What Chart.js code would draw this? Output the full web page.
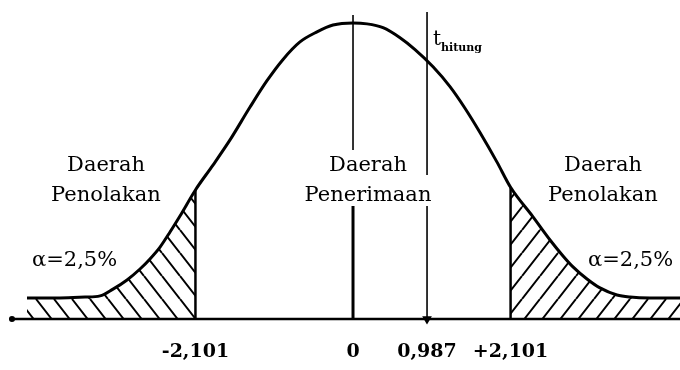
<!DOCTYPE html>
<html>
<head>
<meta charset="utf-8">
<script src="https://cdn.jsdelivr.net/npm/chart.js@4.4.1/dist/chart.umd.min.js"></script>
<style>
  html, body { margin: 0; padding: 0; background: #fff; }
  #wrap { width: 680px; height: 370px; position: relative; }
</style>
</head>
<body>
<div id="wrap"><canvas id="c"></canvas></div>
<script>
// ---- data ----
const curveX = [-4.347, -3.907, -3.573, -3.373, -3.200, -3.013, -2.840, -2.707, -2.573, -2.440, -2.307, -2.101,
  -1.867, -1.640, -1.373, -1.147, -0.933, -0.707, -0.480, -0.267, 0, 0.187, 0.400, 0.627, 0.827, 1.067, 1.293,
  1.493, 1.693, 1.920, 2.101, 2.400, 2.627, 2.800, 2.933, 3.120, 3.293, 3.520, 3.693, 3.960, 4.360];
const curveY = [0.071, 0.071, 0.074, 0.078, 0.101, 0.132, 0.169, 0.203, 0.243, 0.294, 0.348, 0.436,
  0.520, 0.605, 0.716, 0.805, 0.877, 0.936, 0.970, 0.993, 1.000, 0.997, 0.984, 0.950, 0.910, 0.852, 0.785,
  0.712, 0.630, 0.530, 0.445, 0.345, 0.267, 0.213, 0.176, 0.135, 0.105, 0.081, 0.074, 0.071, 0.071];
const tickValues = [-2.101, 0, 0.987, 2.101];
const tickLabels = ['-2,101', '0', '0,987', '+2,101'];
const tCritical = 2.101;
const tHitung = 0.987;
const centerLineTop = 1.027;
const centerLineThickTop = 0.385;
const tHitungLineTop = 1.037;
const xRange = [-4.547, 4.36];
const yRange = [0, 1.0777];

// ---- helpers ----
const pts = curveX.map((x, i) => ({ x: x, y: curveY[i] }));
const leftTail = pts.filter(p => p.x <= -tCritical);
const rightTail = pts.filter(p => p.x >= tCritical);
const hAt = x => pts.find(p => p.x === x).y;

const canvas = document.getElementById('c');
const mainCtx = canvas.getContext('2d');
function hatch(dir) {
  const w = 18, h = 23;
  const t = document.createElement('canvas');
  t.width = w; t.height = h;
  const g = t.getContext('2d');
  g.strokeStyle = '#000';
  g.lineWidth = 2;
  g.beginPath();
  for (const o of [-w, 0, w]) {
    if (dir > 0) { g.moveTo(o, 0); g.lineTo(o + w, h); }
    else { g.moveTo(o + w, 0); g.lineTo(o, h); }
  }
  g.stroke();
  return mainCtx.createPattern(t, 'repeat');
}

const SERIF = '"DejaVu Serif", "Liberation Serif", serif';

const textPlugin = {
  id: 'labels',
  afterDatasetsDraw(chart) {
    const ctx = chart.ctx;
    const xs = chart.scales.x;
    ctx.save();
    ctx.fillStyle = '#000';
    ctx.textBaseline = 'alphabetic';
    ctx.font = '21px ' + SERIF;
    ctx.textAlign = 'center';
    function boxed(txt, cx, base, top, bottom) {
      const w = ctx.measureText(txt).width;
      ctx.fillStyle = '#fff';
      ctx.fillRect(cx - w / 2 - 2, top, w + 4, bottom - top);
      ctx.fillStyle = '#000';
      ctx.fillText(txt, cx, base);
    }
    // left region
    ctx.fillText('Daerah', 106, 171);
    ctx.fillText('Penolakan', 106, 201);
    // right region
    ctx.fillText('Daerah', 603, 171);
    ctx.fillText('Penolakan', 603, 201);
    // centre region (white background cuts the vertical lines)
    boxed('Daerah', 368, 171, 150, 175);
    boxed('Penerimaan', 368, 201, 175, 206);
    // alpha labels
    ctx.textAlign = 'left';
    ctx.fillText('\u03B1=2,5%', 32, 266);
    ctx.fillText('\u03B1=2,5%', 588, 266);
    // t hitung
    const tx = xs.getPixelForValue(tHitung) + 6;
    ctx.font = '20px ' + SERIF;
    ctx.fillText('t', tx, 45);
    const tw = ctx.measureText('t').width;
    ctx.font = 'bold 11px ' + SERIF;
    ctx.fillText('hitung', tx + tw, 51);
    ctx.restore();
  }
};

const black = '#000';
new Chart(canvas, {
  type: 'line',
  data: {
    datasets: [
      { data: pts, borderColor: black, borderWidth: 3, cubicInterpolationMode: 'monotone', pointRadius: 0, fill: false },
      { data: [{ x: -tCritical, y: 0 }, { x: -tCritical, y: hAt(-tCritical) }], borderColor: black, borderWidth: 2.5, pointRadius: 0 },
      { data: [{ x: tCritical, y: 0 }, { x: tCritical, y: hAt(tCritical) }], borderColor: black, borderWidth: 2.5, pointRadius: 0 },
      { data: [{ x: 0, y: 0 }, { x: 0, y: centerLineTop }], borderColor: black, borderWidth: 1.6, pointRadius: 0 },
      { data: [{ x: 0, y: 0 }, { x: 0, y: centerLineThickTop }], borderColor: black, borderWidth: 3, pointRadius: 0 },
      { data: [{ x: tHitung, y: 0 }, { x: tHitung, y: tHitungLineTop }], borderColor: black, borderWidth: 1.6,
        pointRadius: [4, 0], pointStyle: 'triangle', rotation: 180, pointBackgroundColor: black, pointBorderColor: black },
      { data: [{ x: xRange[0], y: 0 }, { x: xRange[1], y: 0 }], borderColor: black, borderWidth: 2.5,
        pointRadius: [1.8, 0], pointBackgroundColor: black, pointBorderColor: black },
      { data: leftTail, borderWidth: 0, borderColor: 'rgba(0,0,0,0)', cubicInterpolationMode: 'monotone', pointRadius: 0,
        fill: 'origin', backgroundColor: hatch(1) },
      { data: rightTail, borderWidth: 0, borderColor: 'rgba(0,0,0,0)', cubicInterpolationMode: 'monotone', pointRadius: 0,
        fill: 'origin', backgroundColor: hatch(-1) }
    ]
  },
  options: {
    responsive: true,
    maintainAspectRatio: false,
    animation: false,
    clip: false,
    layout: { autoPadding: false, padding: { left: 12, right: 0, top: 0, bottom: 6 } },
    plugins: { legend: { display: false }, tooltip: { enabled: false } },
    scales: {
      x: {
        type: 'linear', min: xRange[0], max: xRange[1],
        grid: { display: false, drawTicks: false },
        border: { display: false },
        afterBuildTicks: s => { s.ticks = tickValues.map(v => ({ value: v })); },
        afterFit: s => { s.height = 45; s.paddingLeft = 0; s.paddingRight = 0; },
        ticks: {
          autoSkip: false, maxRotation: 0, padding: 22, color: black,
          font: { family: SERIF, size: 19, weight: 'bold' },
          callback: (v) => { const i = tickValues.indexOf(v); return i >= 0 ? tickLabels[i] : ''; }
        }
      },
      y: { display: false, min: yRange[0], max: yRange[1] }
    }
  },
  plugins: [textPlugin]
});
</script>
</body>
</html>
